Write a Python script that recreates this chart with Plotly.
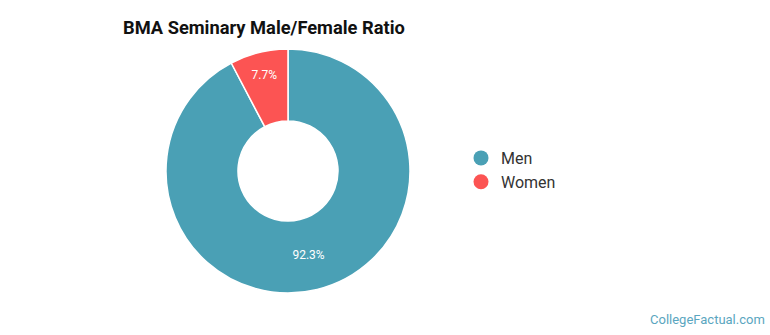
import plotly.graph_objects as go

labels = ["Men", "Women"]
values = [92.3, 7.7]
colors = ["#4aa0b5", "#fc5453"]

fig = go.Figure()
fig.add_trace(go.Pie(
    labels=labels, values=values, sort=False, direction="clockwise", rotation=0,
    hole=0.41, marker=dict(colors=colors, line=dict(color="white", width=1.5)),
    texttemplate="%{value:.1f}%", textposition="inside", insidetextorientation="horizontal",
    textfont=dict(color="white", size=12, family="Roboto"),
    showlegend=False, hoverinfo="label+percent",
    domain=dict(x=[(288-122)/770, (288+122)/770], y=[(335-293)/335, (335-49)/335]),
))
for lab, col in zip(labels, colors):
    fig.add_trace(go.Scatter(x=[None], y=[None], mode="markers", name=lab,
                             marker=dict(color=col, size=15, symbol="circle")))

fig.update_layout(
    width=770, height=335, margin=dict(l=0, r=0, t=0, b=0),
    paper_bgcolor="white", plot_bgcolor="white",
    xaxis=dict(visible=False), yaxis=dict(visible=False),
    title=dict(text="<b>BMA Seminary Male/Female Ratio</b>", x=123/770, xanchor="left",
               y=1-28/335, yanchor="middle", font=dict(family="Roboto", size=18.3, color="#111")),
    legend=dict(x=461/770, y=1-141/335, xanchor="left", yanchor="top",
                font=dict(family="Roboto", size=16, color="#333"), itemsizing="trace",
                itemwidth=30, tracegroupgap=4, bgcolor="rgba(0,0,0,0)"),
    annotations=[dict(text="CollegeFactual.com", x=1-3/770, y=6/335, xref="paper", yref="paper",
                      xanchor="right", yanchor="bottom", showarrow=False,
                      font=dict(family="Roboto", size=13, color="#5aa6c0"))],
)
fig.write_html("out.html")
